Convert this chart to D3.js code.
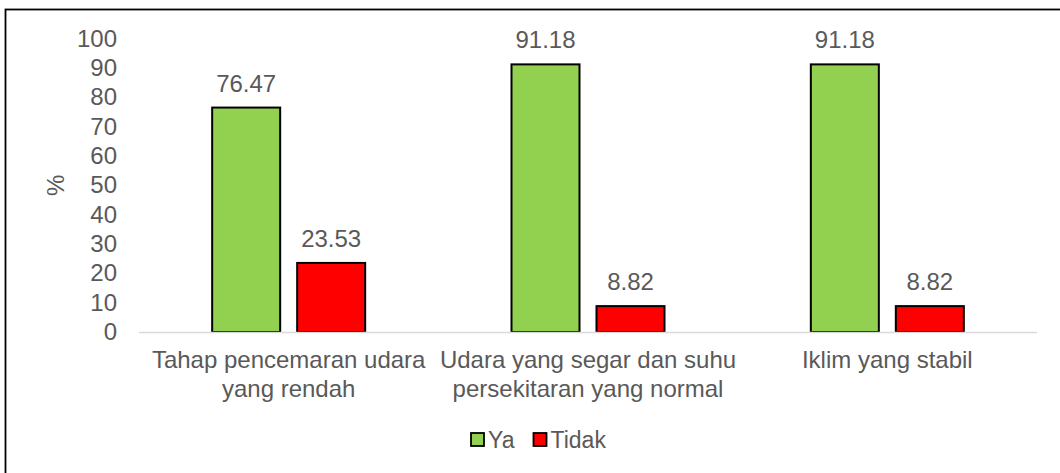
<!DOCTYPE html>
<html lang="ms">
    <head>
        <meta charset="UTF-8" />
        <title>Ya / Tidak</title>
        <style>
            body {
                margin: 0;
                background: #fff;
            }

            svg text {
                font-family: 'Liberation Sans', Arial, sans-serif;
                fill: #595959;
            }
        </style>
    </head>

    <body>
        <svg width="1060" height="473"></svg>
        <script src="https://d3js.org/d3.v7.min.js"></script>
        <script>
            const categories = [
                'Tahap pencemaran udara\nyang rendah',
                'Udara yang segar dan suhu\npersekitaran yang normal',
                'Iklim yang stabil'
            ];
            const seriesNames = ['Ya', 'Tidak'];
            const yaValues = [76.47, 91.18, 91.18];
            const tidakValues = [23.53, 8.82, 8.82];
            const yTicks = [0, 10, 20, 30, 40, 50, 60, 70, 80, 90, 100];
            const colors = ['#92D050', '#FF0000'];

            const width = 1060,
                height = 473;
            const svg = d3.select('svg').attr('width', width).attr('height', height);

            // chart frame (cropped on right and bottom)
            svg.append('rect')
                .attr('x', 5.5)
                .attr('y', 9.5)
                .attr('width', width + 10)
                .attr('height', height + 10)
                .attr('fill', 'none')
                .attr('stroke', '#000')
                .attr('stroke-width', 1.8);

            const plot = { left: 139, right: 1037, top: 38.5, bottom: 332 };

            const x = d3.scaleBand().domain(categories).range([plot.left, plot.right]);
            const y = d3.scaleLinear().domain([0, 100]).range([plot.bottom, plot.top]);

            const bw = x.bandwidth();
            const x1 = d3
                .scaleBand()
                .domain(seriesNames)
                .range([bw / 2 - 76.5, bw / 2 + 76.5])
                .paddingInner(0.2);

            const rows = categories.map((c, i) => ({ cat: c, values: [yaValues[i], tidakValues[i]] }));

            // y axis labels
            svg.append('g')
                .attr('transform', `translate(117,0)`)
                .call(d3.axisLeft(y).tickValues(yTicks).tickSize(0).tickPadding(0))
                .call((g) => g.select('.domain').remove())
                .selectAll('text')
                .attr('font-size', 24)
                .attr('fill', '#595959')
                .attr('font-family', "'Liberation Sans', Arial, sans-serif");

            svg.append('text')
                .attr('transform', `translate(64,${(plot.top + plot.bottom) / 2}) rotate(-90)`)
                .attr('text-anchor', 'middle')
                .attr('font-size', 24)
                .text('%');

            // bars
            const groups = svg
                .selectAll('g.cat')
                .data(rows)
                .join('g')
                .attr('class', 'cat')
                .attr('transform', (d) => `translate(${x(d.cat)},0)`);

            groups
                .selectAll('rect')
                .data((d) => d.values.map((v, j) => ({ name: seriesNames[j], v, j })))
                .join('rect')
                .attr('x', (d) => x1(d.name))
                .attr('y', (d) => y(d.v))
                .attr('width', x1.bandwidth())
                .attr('height', (d) => y(0) - y(d.v))
                .attr('fill', (d) => colors[d.j])
                .attr('stroke', '#000')
                .attr('stroke-width', 2);

            groups
                .selectAll('text.val')
                .data((d) => d.values.map((v, j) => ({ name: seriesNames[j], v })))
                .join('text')
                .attr('class', 'val')
                .attr('x', (d) => x1(d.name) + x1.bandwidth() / 2)
                .attr('y', (d) => y(d.v) - 16)
                .attr('text-anchor', 'middle')
                .attr('font-size', 24)
                .text((d) => d.v.toFixed(2));

            // baseline
            svg.append('line')
                .attr('x1', plot.left)
                .attr('x2', plot.right)
                .attr('y1', y(0) + 0.5)
                .attr('y2', y(0) + 0.5)
                .attr('stroke', '#d9d9d9')
                .attr('stroke-width', 1.5);

            // category labels
            const catLabels = svg
                .selectAll('text.cat')
                .data(categories)
                .join('text')
                .attr('class', 'cat')
                .attr('text-anchor', 'middle')
                .attr('font-size', 24)
                .attr('x', (d) => x(d) + bw / 2)
                .attr('y', 368);
            catLabels
                .selectAll('tspan')
                .data((d) => d.split('\n'))
                .join('tspan')
                .attr('x', function () {
                    return this.parentNode.getAttribute('x');
                })
                .attr('dy', (d, i) => (i === 0 ? 0 : 28.5))
                .text((d) => d);

            // legend
            const legend = svg.append('g').attr('transform', 'translate(471,433)');
            const legendX = [0, 62.5];
            seriesNames.forEach((name, i) => {
                const item = legend.append('g').attr('transform', `translate(${legendX[i]},0)`);
                item.append('rect')
                    .attr('width', 13)
                    .attr('height', 13)
                    .attr('fill', colors[i])
                    .attr('stroke', '#000')
                    .attr('stroke-width', 1.8);
                item.append('text').attr('x', 17).attr('y', 14.5).attr('font-size', 23).text(name);
            });
        </script>
    </body>
</html>
